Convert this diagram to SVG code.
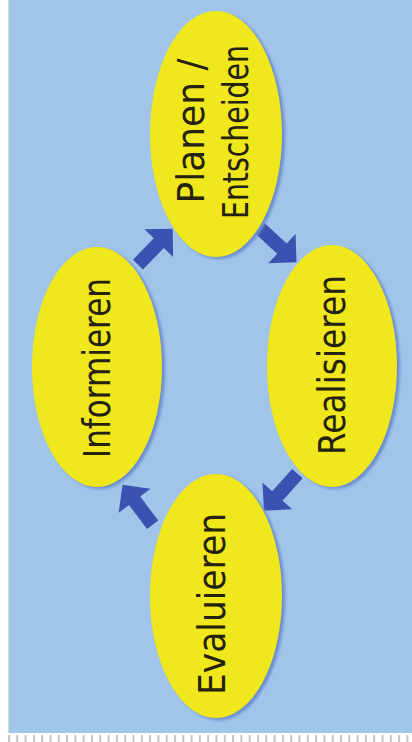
<svg xmlns="http://www.w3.org/2000/svg" width="412" height="742" viewBox="0 0 412 742">
  <defs>
    <style>
      .node { fill: #f0e81c; }
      .shadow { fill: #6a8ccf; filter: url(#blur); }
      .label { font-family: "DejaVu Sans", "Liberation Sans", sans-serif; font-size: 37px; fill: #24220e; text-anchor: middle; }
      .small { font-size: 35px; }
      .arrow { fill: #3b52b2; }
    </style>
    <filter id="blur" x="-10%" y="-10%" width="120%" height="120%">
      <feGaussianBlur stdDeviation="1.5"/>
    </filter>
    <path id="arr" d="M -26,-7 L 4,-7 L 4,-20 L 24,0 L 4,20 L 4,7 L -26,7 Z"/>
    <pattern id="ticks" x="8" y="0" width="8.3" height="742" patternUnits="userSpaceOnUse">
      <rect x="0" y="735" width="2" height="7" fill="#c4c4c4"/>
    </pattern>
  </defs>

  <rect x="0" y="0" width="412" height="742" fill="#ffffff"/>
  <rect x="8" y="0" width="1" height="733" fill="#d8d8d8"/>
  <rect x="9" y="0" width="403" height="733" fill="#a0c5e9"/>
  <rect x="8" y="735" width="404" height="7" fill="url(#ticks)"/>

  <g id="connectors">
    <use href="#arr" class="arrow" transform="translate(156,246) rotate(-46)"/>
    <use href="#arr" class="arrow" transform="translate(279,246) rotate(43)"/>
    <use href="#arr" class="arrow" transform="translate(280,493) rotate(132)"/>
    <use href="#arr" class="arrow" transform="translate(137,504) rotate(-127)"/>
  </g>

  <g id="node-planen">
    <ellipse class="shadow" cx="219" cy="136" rx="66" ry="123"/>
    <ellipse class="node" cx="216" cy="134" rx="66" ry="123"/>
    <text class="label" transform="translate(204,131) rotate(-90)" textLength="145" lengthAdjust="spacingAndGlyphs">Planen /</text>
    <text class="label small" transform="translate(248,132) rotate(-90)" textLength="174" lengthAdjust="spacingAndGlyphs">Entscheiden</text>
  </g>

  <g id="node-informieren">
    <ellipse class="shadow" cx="100" cy="369" rx="65" ry="120"/>
    <ellipse class="node" cx="97" cy="367" rx="65" ry="120"/>
    <text class="label" transform="translate(110,368) rotate(-90)" textLength="180" lengthAdjust="spacingAndGlyphs">Informieren</text>
  </g>

  <g id="node-realisieren">
    <ellipse class="shadow" cx="335" cy="368" rx="65" ry="121"/>
    <ellipse class="node" cx="332" cy="366" rx="65" ry="121"/>
    <text class="label" transform="translate(345,365) rotate(-90)" textLength="180" lengthAdjust="spacingAndGlyphs">Realisieren</text>
  </g>

  <g id="node-evaluieren">
    <ellipse class="shadow" cx="219" cy="598" rx="66" ry="122"/>
    <ellipse class="node" cx="216" cy="596" rx="66" ry="122"/>
    <text class="label" transform="translate(225,604) rotate(-90)" textLength="182" lengthAdjust="spacingAndGlyphs">Evaluieren</text>
  </g>
</svg>
